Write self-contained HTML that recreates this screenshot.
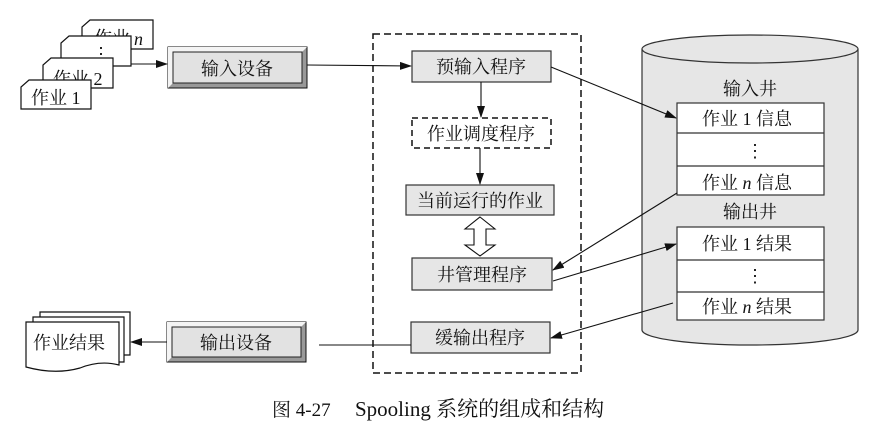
<!DOCTYPE html>
<html><head><meta charset="utf-8"><style>
body{margin:0;background:#fff}
text{font-family:"Liberation Serif","Noto Serif CJK SC","Noto Sans CJK SC",serif;fill:#111}
</style></head><body>
<svg width="886" height="437" viewBox="0 0 886 437" xmlns="http://www.w3.org/2000/svg" font-size="18">
<defs>
<marker id="a" markerWidth="12" markerHeight="8" refX="11" refY="4" orient="auto" markerUnits="userSpaceOnUse"><path d="M0,0 L12,4 L0,8 z" fill="#111"/></marker>
</defs>
<!-- input pages -->
<path d="M90,20 H153 V49 H82 V27 Z" fill="#fff" stroke="#111" stroke-width="1.2"/>
<text x="94" y="44">作业</text><text x="134" y="45" font-style="italic">n</text>
<path d="M69,36 H131 V66 H61 V43 Z" fill="#fff" stroke="#111" stroke-width="1.2"/>
<text x="92" y="60" style="font-size:18px">⋮</text>
<path d="M51,58 H113 V88 H43 V65 Z" fill="#fff" stroke="#111" stroke-width="1.2"/>
<text x="53" y="85">作业 2</text>
<path d="M29,80 H91 V109 H21 V87 Z" fill="#fff" stroke="#111" stroke-width="1.2"/>
<text x="31" y="104">作业 1</text>
<!-- output pages -->
<g stroke="#111" stroke-width="1.2" fill="#fff">
<path d="M40,312 H130 V355 H40 Z"/>
<path d="M33,317 H124 V362 H33 Z"/>
<path d="M26,322 H119 V365 Q100,360 80,368 Q55,375 26,367 Z"/>
</g>
<text x="33" y="349">作业结果</text>
<!-- device boxes -->
<g>
<rect x="168" y="47" width="139" height="41" fill="#999" stroke="#111"/>
<polygon points="168,47 307,47 302,52 173,52 173,83 168,88" fill="#f4f4f4"/>
<rect x="173" y="52" width="129" height="31" fill="#e2e2e2" stroke="#222"/>
<rect x="167" y="322" width="139" height="40" fill="#999" stroke="#111"/>
<polygon points="167,322 306,322 301,327 172,327 172,357 167,362" fill="#f4f4f4"/>
<rect x="172" y="327" width="129" height="30" fill="#e2e2e2" stroke="#222"/>
</g>
<text x="201" y="75">输入设备</text>
<text x="200" y="349">输出设备</text>
<!-- dashed container -->
<rect x="373" y="34" width="208" height="339" fill="none" stroke="#111" stroke-width="1.5" stroke-dasharray="7,4"/>
<g stroke="#333" stroke-width="1.2" fill="#e6e6e6">
<rect x="412" y="51" width="139" height="31"/>
<rect x="406" y="185" width="148" height="30"/>
<rect x="412" y="258" width="140" height="32"/>
<rect x="411" y="322" width="139" height="31"/>
</g>
<rect x="412" y="118" width="139" height="30" fill="#fff" stroke="#111" stroke-width="1.5" stroke-dasharray="6,4"/>
<text x="481" y="73" text-anchor="middle">预输入程序</text>
<text x="481" y="140" text-anchor="middle">作业调度程序</text>
<text x="480" y="207" text-anchor="middle">当前运行的作业</text>
<text x="482" y="281" text-anchor="middle">井管理程序</text>
<text x="480" y="344" text-anchor="middle">缓输出程序</text>
<!-- double arrow -->
<path d="M480,217 L495,229 H486 V245 H495 L480,256 L465,245 H474 V229 H465 Z" fill="#fff" stroke="#111" stroke-width="1.1"/>
<!-- cylinder -->
<path d="M642,49 V330 A108,15 0 0 0 858,330 V49" fill="#e6e6e6" stroke="#333" stroke-width="1.2"/>
<ellipse cx="750" cy="49" rx="108" ry="14" fill="#e6e6e6" stroke="#333" stroke-width="1.2"/>
<text x="750" y="95" text-anchor="middle">输入井</text>
<text x="750" y="218" text-anchor="middle">输出井</text>
<g fill="#fff" stroke="#333" stroke-width="1.2">
<rect x="677" y="103" width="147" height="92"/>
<line x1="677" y1="133" x2="824" y2="133"/><line x1="677" y1="166" x2="824" y2="166"/>
<rect x="677" y="227" width="147" height="93"/>
<line x1="677" y1="260" x2="824" y2="260"/><line x1="677" y1="292" x2="824" y2="292"/>
</g>
<text x="702" y="125">作业 1 信息</text>
<text x="746" y="157" style="font-size:18px">⋮</text>
<text x="702" y="189">作业 <tspan font-style="italic">n</tspan> 信息</text>
<text x="702" y="250">作业 1 结果</text>
<text x="746" y="282" style="font-size:18px">⋮</text>
<text x="702" y="313">作业 <tspan font-style="italic">n</tspan> 结果</text>
<!-- connectors -->
<g stroke="#111" stroke-width="1.1" fill="none">
<line x1="131" y1="64" x2="167" y2="64" marker-end="url(#a)"/>
<line x1="307" y1="65" x2="411" y2="66" marker-end="url(#a)"/>
<line x1="481" y1="82" x2="481" y2="117" marker-end="url(#a)"/>
<line x1="480" y1="148" x2="480" y2="184" marker-end="url(#a)"/>
<line x1="551" y1="67" x2="676" y2="118" marker-end="url(#a)"/>
<line x1="677" y1="193" x2="553" y2="270" marker-end="url(#a)"/>
<line x1="553" y1="281" x2="676" y2="244" marker-end="url(#a)"/>
<line x1="673" y1="303" x2="551" y2="338" marker-end="url(#a)"/>
<line x1="411" y1="345" x2="319" y2="345"/>
<line x1="167" y1="342" x2="131" y2="342" marker-end="url(#a)"/>
</g>
<text x="272" y="416" style="font-size:19px">图 4-27</text>
<text x="355" y="416" style="font-size:21px">Spooling 系统的组成和结构</text>
</svg>
</body></html>
